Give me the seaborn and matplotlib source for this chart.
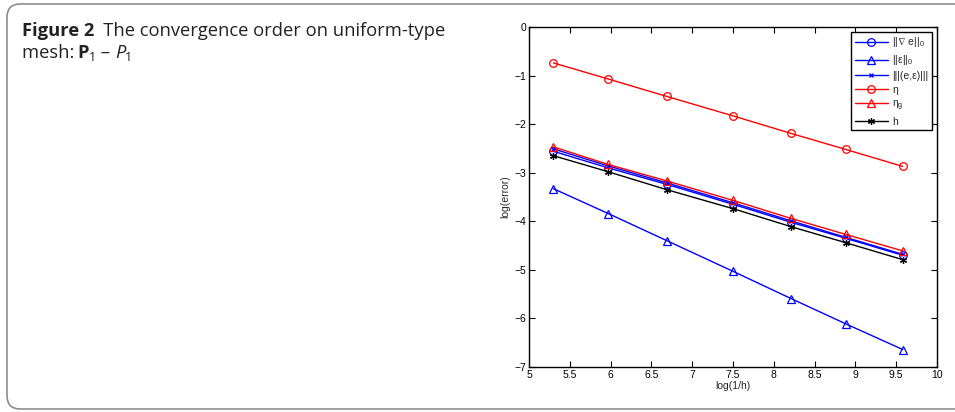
import numpy as np
import pandas as pd
import seaborn as sns
import matplotlib.pyplot as plt
from matplotlib.patches import FancyBboxPatch

sns.set_theme(style="white")
plt.rcParams["font.family"] = ["Liberation Sans", "DejaVu Sans"]
plt.rcParams["mathtext.default"] = "regular"

# log(1/h) for the successive uniform meshes
log_inv_h = [5.30, 5.97, 6.69, 7.50, 8.21, 8.88, 9.58]

# log(error) of each quantity
grad_e = [-2.56, -2.90, -3.24, -3.65, -4.02, -4.35, -4.70]
eps_l2 = [-3.33, -3.84, -4.40, -5.03, -5.59, -6.11, -6.64]
energy = [-2.51, -2.86, -3.21, -3.62, -3.99, -4.33, -4.68]
eta = [-0.74, -1.07, -1.43, -1.83, -2.19, -2.52, -2.87]
eta_g = [-2.47, -2.83, -3.17, -3.57, -3.94, -4.27, -4.61]
h_ref = [-2.65, -2.98, -3.35, -3.74, -4.11, -4.44, -4.79]

labels = [r"||$\nabla$ e||$_0$", "||\u03b5||$_0$", "|||(e,\u03b5)|||",
          "\u03b7", "\u03b7$_g$", "h"]
series = [grad_e, eps_l2, energy, eta, eta_g, h_ref]

x_ticks = [5, 5.5, 6, 6.5, 7, 7.5, 8, 8.5, 9, 9.5, 10]
y_ticks = [0, -1, -2, -3, -4, -5, -6, -7]

styles = [
    dict(color="#0000ff", marker="o", ms=5.5),
    dict(color="#0000ff", marker="^", ms=6),
    dict(color="#0000ff", marker="x", ms=3.5),
    dict(color="#ff0000", marker="o", ms=5.5),
    dict(color="#ff0000", marker="^", ms=6),
    dict(color="#000000", marker=(6, 2, 0), ms=5),
]

df = pd.concat(
    [pd.DataFrame({"x": log_inv_h, "y": v, "name": lab}) for v, lab in zip(series, labels)],
    ignore_index=True,
)

fig = plt.figure(figsize=(9.55, 4.12), dpi=100)
renderer = fig.canvas.get_renderer()

# rounded caption frame, open to the right
frame = FancyBboxPatch((7 / 955, 3 / 412), 1.2, 408 / 412 - 3 / 412,
                       boxstyle="round,pad=0,rounding_size=0.014",
                       transform=fig.transFigure, fill=False,
                       edgecolor="#8c8c8c", linewidth=1.2, mutation_aspect=955 / 412)
fig.add_artist(frame)

cap_font = ["Open Sans", "DejaVu Sans"]
cap_size = 13.2
cap_color = "#222222"


def chain(x, y, pieces):
    """Place text pieces one after another along a baseline (pixel coords)."""
    cur = x
    for txt, kw, dy in pieces:
        t = fig.text(cur / 955, 1 - (y - dy) / 412, txt, family=cap_font,
                     color=cap_color, va="baseline", **kw)
        cur += t.get_window_extent(renderer).width


chain(22, 36, [("Figure 2", dict(fontsize=cap_size, fontweight="bold"), 0),
               ("\u2002The convergence order on uniform-type", dict(fontsize=cap_size), 0)])
chain(22, 58, [("mesh:\u2009", dict(fontsize=cap_size), 0),
               ("P", dict(fontsize=cap_size, fontweight="bold"), 0),
               ("1", dict(fontsize=cap_size * 0.68), -3),
               (" \u2013 ", dict(fontsize=cap_size), 0),
               ("P", dict(fontsize=cap_size, style="italic"), 0),
               ("1", dict(fontsize=cap_size * 0.68), -3)])

ax = fig.add_axes([529 / 955, 1 - 367 / 412, 408 / 955, 340 / 412])
for lab, st in zip(labels, styles):
    sub = df[df["name"] == lab]
    sns.lineplot(data=sub, x="x", y="y", ax=ax, label=lab, color=st["color"],
                 marker=st["marker"], markersize=st["ms"], markerfacecolor="none",
                 markeredgecolor=st["color"], markeredgewidth=0.9, linewidth=1.0)

ax.set_xlim(5, 10)
ax.set_ylim(-7, 0)
ax.set_xticks(x_ticks)
ax.set_xticklabels([f"{t:g}" for t in x_ticks])
ax.set_yticks(y_ticks)
ax.set_yticklabels([f"{t:g}".replace("-", "\u2212") for t in y_ticks])
ax.tick_params(direction="in", length=4, width=0.8, labelsize=7.5, top=True,
               right=True, bottom=True, left=True, pad=2, colors="black")
for s in ax.spines.values():
    s.set_visible(True)
    s.set_color("black")
    s.set_linewidth(1.0)
ax.set_xlabel("log(1/h)", fontsize=7.5, labelpad=1)
ax.set_ylabel("log(error)", fontsize=7.5, labelpad=3)
ax.grid(False)

leg = ax.legend(loc="upper right", bbox_to_anchor=(0.988, 0.986), borderaxespad=0,
                fontsize=7.5, handlelength=3.2, handletextpad=0.4, labelspacing=0.36,
                borderpad=0.35, fancybox=False, framealpha=1, edgecolor="black")
leg.get_frame().set_linewidth(1.0)

fig.savefig("out.png", dpi=100)
